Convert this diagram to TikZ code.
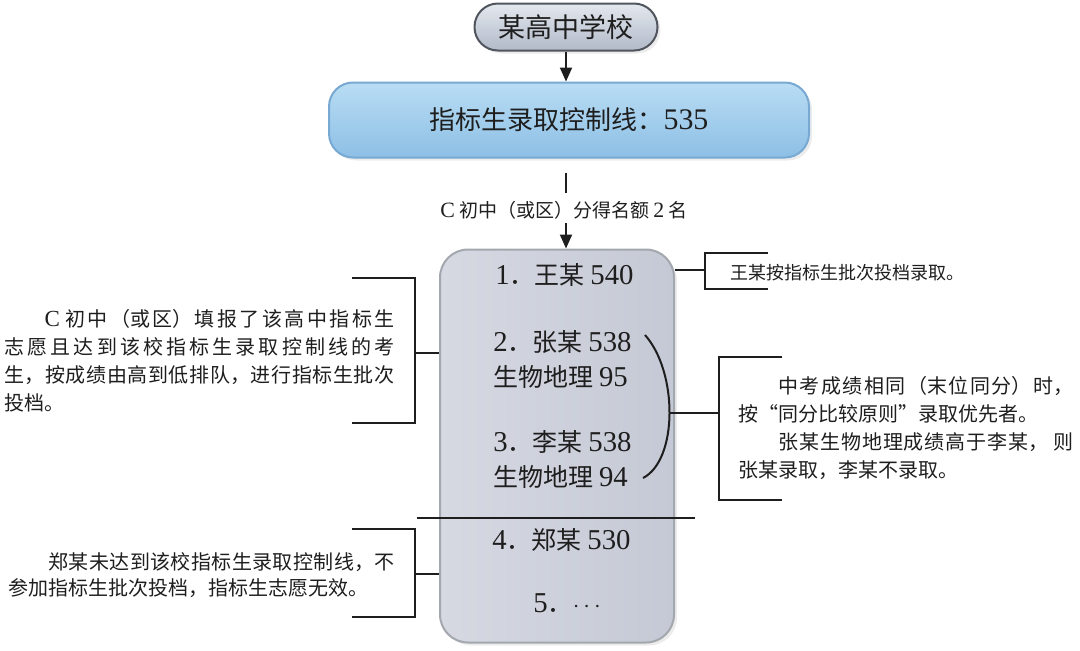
\documentclass[tikz,border=0pt]{standalone}
\usepackage{fontspec}
\setmainfont{Liberation Serif}
\newfontfamily\cjk{Noto Sans CJK SC}
\newfontfamily\latnfont{Liberation Serif}[Scale=1.15]
\XeTeXlinebreaklocale "zh"
\XeTeXlinebreakskip = 0pt plus 4pt
\usepackage{tikz}
\usetikzlibrary{arrows.meta,shapes,positioning,calc,shadows}
\definecolor{ink}{HTML}{1E1E1E}
\definecolor{schoolTop}{HTML}{E4E8EF}
\definecolor{schoolBot}{HTML}{B2B9C8}
\definecolor{schoolLine}{HTML}{50555E}
\definecolor{blueTop}{HTML}{B9DDF4}
\definecolor{blueBot}{HTML}{8DBFE5}
\definecolor{blueLine}{HTML}{78A9D3}
\definecolor{rankLeft}{HTML}{D6D9E2}
\definecolor{rankRight}{HTML}{C5C9D5}
\definecolor{rankLine}{HTML}{A3A7AE}
\newcommand{\latn}[1]{{\latnfont #1}}
\tikzset{
  link/.style = {line width=1pt, draw=ink},
  bracket/.style = {line width=1pt, draw=ink},
  note/.style = {inner sep=0pt, align=justify, text=ink, font=\cjk\fontsize{10pt}{14pt}\selectfont},
  entry/.style = {anchor=west, inner sep=0pt, align=left, text=ink, font=\cjk\fontsize{12.5pt}{17.5pt}\selectfont},
  soft shadow/.style = {drop shadow={shadow xshift=1.5pt, shadow yshift=-1.5pt, opacity=0.15}}
}

\begin{document}
\begin{tikzpicture}[x = 0.5pt, y = -0.5pt, >={Triangle[length=7pt, width=6pt]}]
\useasboundingbox (0,0) rectangle (1080,650);
\node[soft shadow, draw=schoolLine, line width=1pt, top color=schoolTop, bottom color=schoolBot, rounded corners=11.7pt, minimum width=91.5pt, minimum height=23.5pt, text=ink, font=\cjk\fontsize{13.5pt}{16pt}\selectfont] (school) at (566,27) {某高中学校};
\node[soft shadow, draw=blueLine, line width=1pt, top color=blueTop, bottom color=blueBot, rounded corners=12pt, minimum width=240pt, minimum height=37.5pt, text=ink, font=\cjk\fontsize{13pt}{16pt}\selectfont] (cutoff) at (569,120) {指标生录取控制线：\latn{535}};
\node[inner sep=0pt, text=ink, font=\cjk\fontsize{9.5pt}{11pt}\selectfont] (quota) at (564,210) {\latn{C} 初中（或区）分得名额 \latn{2} 名};
\node[soft shadow, draw=rankLine, line width=1pt, left color=rankLeft, right color=rankRight, rounded corners=14pt, minimum width=117pt, minimum height=196.5pt] (rank) at (557,446) {};
\draw[link, ->] (school) -- (school |- cutoff.north);
\draw[link, shorten <=7pt, shorten >=4pt] (school.south |- cutoff.south) -- (school.south |- quota.north);
\draw[link, ->, shorten <=2pt] (school.south |- quota.south) -- (school.south |- rank.north);

% ranked candidates
\node[entry] (wang) at (495,275) {\latn{1}．王某 \latn{540}};
\node[entry] (zhang) at (493,359) {\latn{2}．张某 \latn{538}\\生物地理 \latn{95}};
\node[entry] (li) at (493,459) {\latn{3}．李某 \latn{538}\\生物地理 \latn{94}};
\node[entry] (zheng) at (492,540) {\latn{4}．郑某 \latn{530}};
\node[entry] (more) at (533,603) {\latn{5}．\latn{$\cdots$}};
\draw[line width=1pt, ink] (417,518) -- (695,518);
\coordinate (tieTop) at (645,335);
\coordinate (tieBot) at (643,478);
\coordinate (tieMid) at (670,413);
\draw[link] (tieTop) .. controls (678,372) and (678,460) .. (tieBot);

% notes
\node[note, text width=195pt, anchor=east] (admitNote) at (395,361) {\hspace*{2em}\latn{C} 初中（或区）填报了该高中指标生\linebreak 志愿且达到该校指标生录取控制线的考\linebreak 生，按成绩由高到低排队，进行指标生批次\linebreak 投档。};
\node[note, text width=193pt, anchor=east, font=\cjk\fontsize{10pt}{13pt}\selectfont] (failNote) at (395,575) {\hspace*{2em}郑某未达到该校指标生录取控制线，不\linebreak 参加指标生批次投档，指标生志愿无效。};
\node[note, anchor=west, font=\cjk\fontsize{9pt}{11pt}\selectfont] (wangNote) at (730,273) {王某按指标生批次投档录取。};
\node[note, text width=167.5pt, anchor=west] (tieNote) at (738,428) {\hspace*{2em}中考成绩相同（末位同分）时，\linebreak 按“同分比较原则”录取优先者。\par\hspace*{2em}张某生物地理成绩高于李某， 则\linebreak 张某录取，李某不录取。};

% brackets
\draw[bracket] (rank.west |- 0,353) -- (415,353);
\draw[bracket] (352,278) -- (415,278) -- (415,423) -- (352,423);
\draw[bracket] (rank.west |- 0,574) -- (415,574);
\draw[bracket] (352,529) -- (415,529) -- (415,617) -- (352,617);
\draw[bracket] (rank.east |- 0,270) -- (705,270);
\draw[bracket] (768,253) -- (705,253) -- (705,289) -- (768,289);
\draw[bracket] (tieMid) -- (719,413);
\draw[bracket] (782,357) -- (719,357) -- (719,500) -- (782,500);
\end{tikzpicture}
\end{document}
